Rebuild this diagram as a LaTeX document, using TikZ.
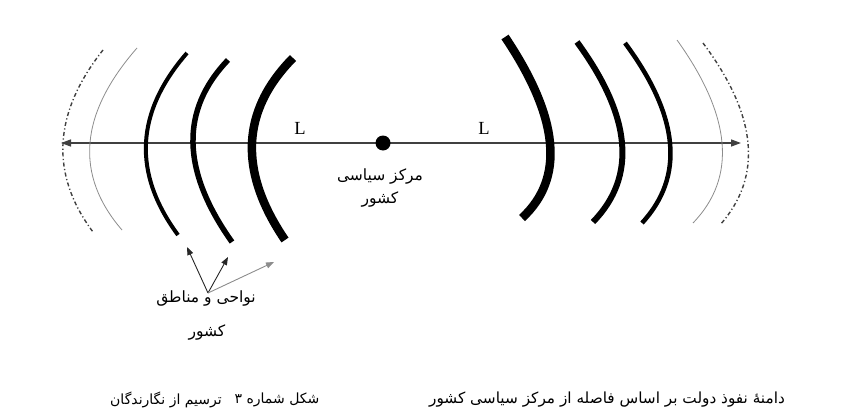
\documentclass[tikz,border=0pt]{standalone}
\usepackage{fontspec}
\setmainfont{Liberation Serif}
\newfontfamily\arabicfont[Script=Arabic]{DejaVu Sans}
\TeXXeTstate=1
\usetikzlibrary{arrows.meta}
\begin{document}
\begin{tikzpicture}[x=1pt,y=-1pt,
  wave/.style={draw=black,line width=#1},
  faint/.style={draw=black!45,line width=0.8pt},
  dashdot/.style={draw=black!75,line width=1.4pt,dash pattern=on 4pt off 2.5pt on 1.2pt off 2.5pt},
  axis/.style={draw=black!75,line width=1.3pt,{Triangle[length=10pt,width=7pt]}-{Triangle[length=10pt,width=7pt]}},
  ptr/.style={draw=black!85,line width=0.9pt,-{Triangle[length=8pt,width=6pt]}},
  ptrlight/.style={draw=black!45,line width=0.9pt,-{Triangle[length=8pt,width=6pt]}},
  fa/.style={font=\arabicfont\fontsize{15.5}{18}\selectfont,inner sep=1pt},
  fasm/.style={font=\arabicfont\fontsize{14}{16}\selectfont,inner sep=1pt},
  lbl/.style={font=\fontsize{18.5}{22}\selectfont,inner sep=1pt}]
\useasboundingbox (0,0) rectangle (843,415);
% axis
\coordinate (axL) at (61,143);
\coordinate (axR) at (741,143);
\coordinate (ctr) at (383,143);
\draw[axis] (axL) -- (axR);
\fill[black] (ctr) circle[radius=7.5pt];
% left waves
\draw[dashdot] (103,50) .. controls (53,113.3) and (49.7,174) .. (93,232);
\draw[faint] (137,48) .. controls (79.3,114) and (74.3,174.7) .. (122,230);
\draw[wave=4pt] (187,53) .. controls (135.3,112.3) and (132.3,173) .. (178,235);
\draw[wave=5.5pt] (228,60) .. controls (180,110) and (181.3,170.7) .. (232,242);
\draw[wave=8.5pt] (293,58) .. controls (241,110.7) and (238.3,171.3) .. (285,240);
% right waves
\draw[wave=8.5pt] (505,37) .. controls (559.3,118) and (565,178.3) .. (522,218);
\draw[wave=6pt] (577,42) .. controls (631.7,116.7) and (637,176.7) .. (593,222);
\draw[wave=4.5pt] (625,43) .. controls (679.3,116.3) and (685,176.3) .. (642,223);
\draw[faint] (677,40) .. controls (731.7,116.3) and (737,177.3) .. (693,223);
\draw[dashdot] (703,43) .. controls (757.3,115.7) and (763,176.3) .. (720,225);
% L labels
\node[lbl] (Ll) at (300,128) {L};
\node[lbl] (Lr) at (484,128) {L};
% centre text
\node[fa] (c1) at (380,177) {\beginR مرکز سیاسی\endR};
\node[fa] (c2) at (380,200) {\beginR کشور\endR};
% region label
\node[fa] (r1) at (206,299) {\beginR نواحی و مناطق\endR};
\node[fa] (r2) at (207,332) {\beginR کشور\endR};
\coordinate (src) at (208,293);
\coordinate (t1) at (187,247);
\coordinate (t2) at (228,257);
\coordinate (t3) at (274,262);
\draw[ptr] (src) -- (t1);
\draw[ptr] (src) -- (t2);
\draw[ptrlight] (src) -- (t3);
% caption
\node[fasm] (b1) at (166,400) {\beginR ترسیم از نگارندگان\endR};
\node[fasm] (b2) at (277,400) {\beginR شکل شماره ۳\endR};
\node[fasm,font=\arabicfont\fontsize{15.3}{18}\selectfont] (b3) at (607,400) {\beginR دامنهٔ نفوذ دولت بر اساس فاصله از مرکز سیاسی کشور\endR};
\end{tikzpicture}
\end{document}
